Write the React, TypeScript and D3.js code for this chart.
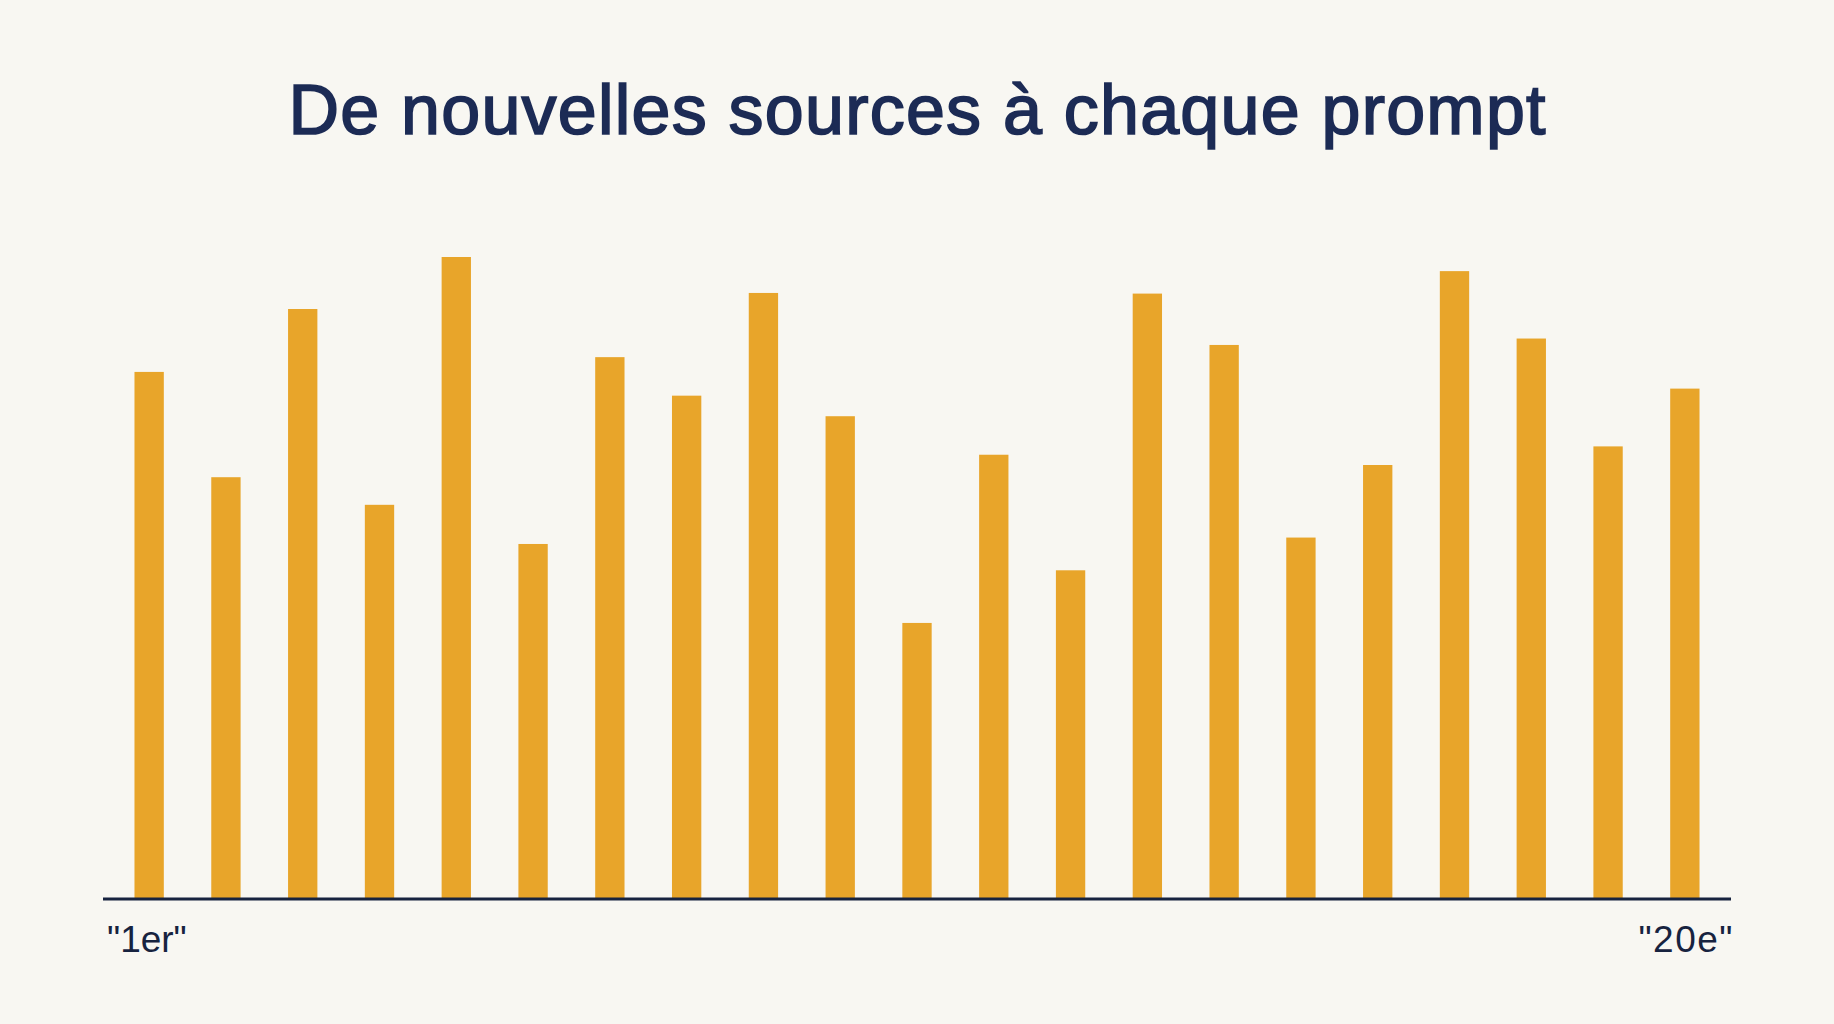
import React from "react";
import * as d3 from "d3";

const W = 1834;
const H = 1024;

const title = "De nouvelles sources à chaque prompt";
const categories = Array.from({ length: 21 }, (_, i) => `P${i + 1}`);
const values = [82.1, 65.7, 91.9, 61.4, 100, 55.3, 84.4, 78.4, 94.4, 75.2, 43.0, 69.2, 51.2, 94.3, 86.3, 56.3, 67.6, 97.8, 87.3, 70.5, 79.5];
const firstLabel = "\"1er\"";
const lastLabel = "\"20e\"";

const BG = "#F8F7F2";
const BAR = "#E8A52A";
const NAVY = "#1C2B55";
const AXIS = "#17233F";

export default function App() {
  const x0 = 103;
  const x1 = 1731;
  const baseY = 899;
  const x = d3
    .scaleBand<string>()
    .domain(categories)
    .range([x0, x1])
    .paddingInner(0.618)
    .paddingOuter(0.41);
  const y = d3.scaleLinear().domain([0, 100]).range([baseY, 257]);

  return (
    <div style={{ position: "fixed", left: 0, top: 0, width: W, height: H, background: BG }}>
      <svg width={W} height={H} viewBox={`0 0 ${W} ${H}`}>
        <rect x={0} y={0} width={W} height={H} fill={BG} />
        <text
          x={W / 2}
          y={134}
          textAnchor="middle"
          fontFamily="'Liberation Sans', Arial, sans-serif"
          fontSize={70}
          fill={NAVY}
          stroke={NAVY}
          strokeWidth={1.7}
          textLength={1257}
          lengthAdjust="spacing"
        >
          {title}
        </text>
        {categories.map((c, i) => (
          <rect
            key={c}
            x={x(c)}
            y={y(values[i])}
            width={x.bandwidth()}
            height={baseY - y(values[i])}
            fill={BAR}
          />
        ))}
        <line x1={x0} x2={x1} y1={baseY} y2={baseY} stroke={AXIS} strokeWidth={3} />
        <text
          x={107}
          y={952}
          fontFamily="'Liberation Sans', Arial, sans-serif"
          fontSize={37}
          fill={AXIS}
        >
          {firstLabel}
        </text>
        <text
          x={1734}
          y={952}
          textAnchor="end"
          fontFamily="'Liberation Sans', Arial, sans-serif"
          fontSize={37}
          letterSpacing={1.5}
          fill={AXIS}
        >
          {lastLabel}
        </text>
      </svg>
    </div>
  );
}
